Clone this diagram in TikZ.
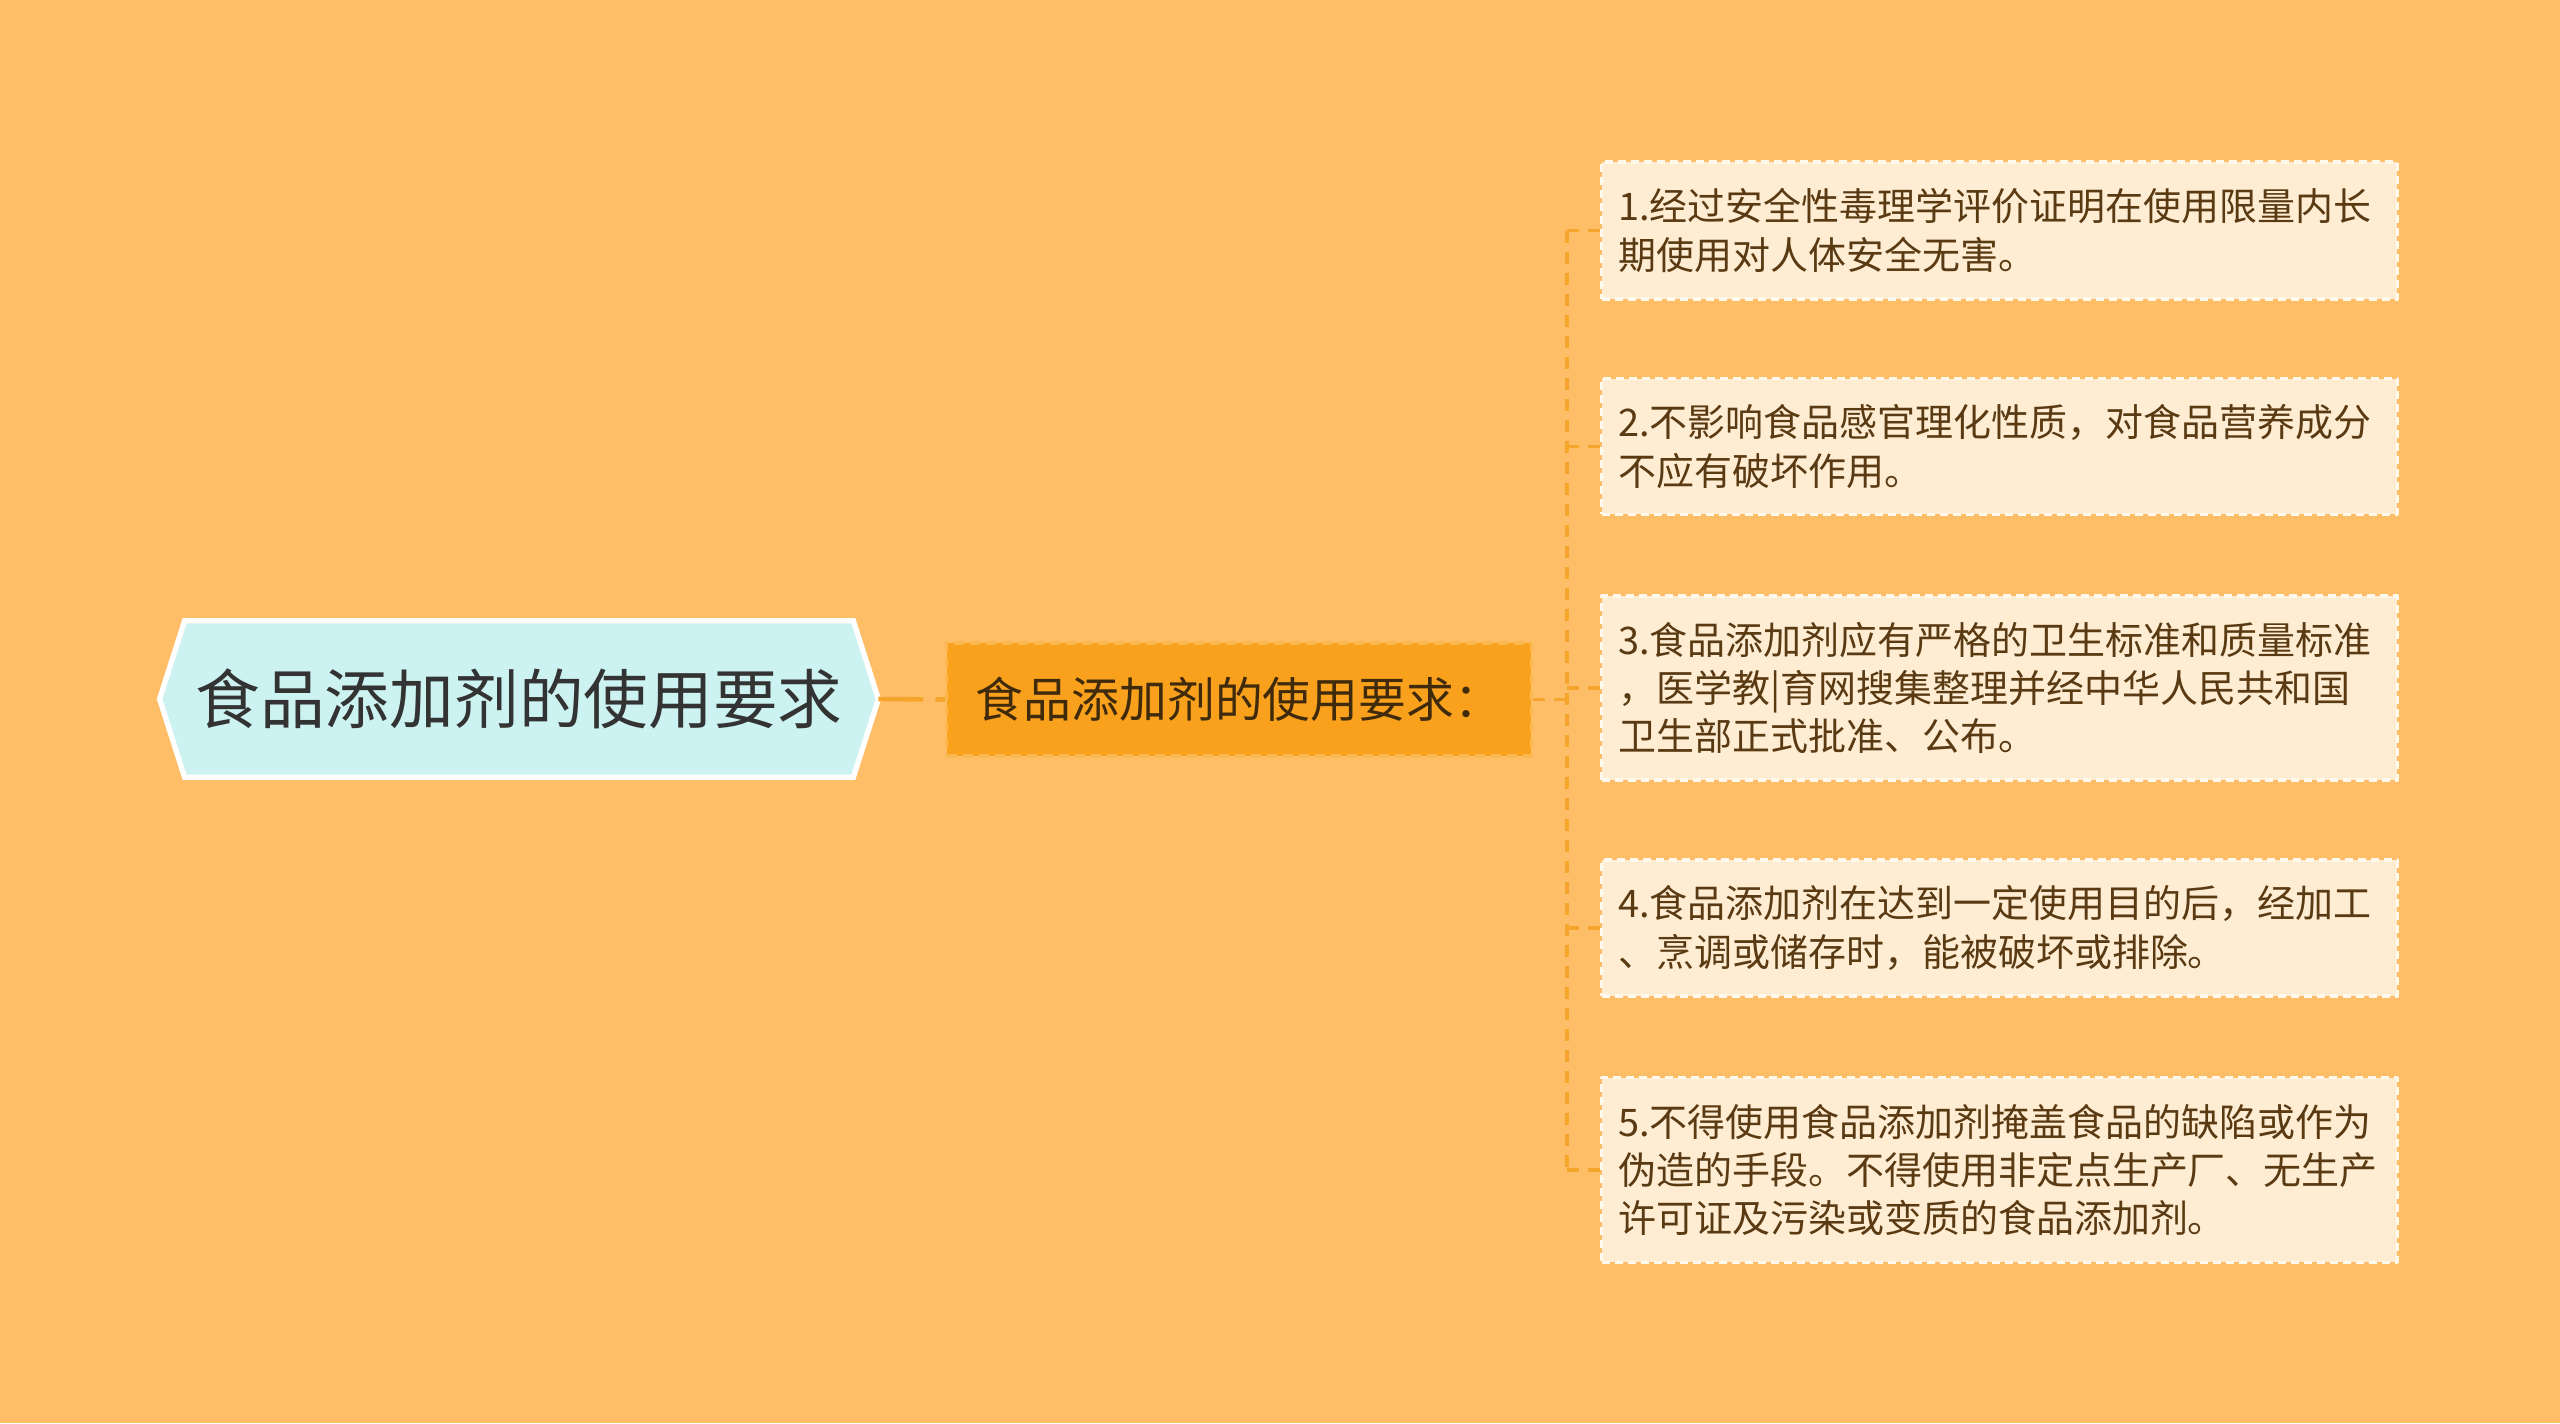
\documentclass[tikz,border=0pt]{standalone}
\usepackage{fontspec}
\setmainfont{Noto Sans CJK SC}
\usetikzlibrary{backgrounds}
\definecolor{bgorange}{HTML}{FEBE68}
\definecolor{rootfill}{HTML}{CCF3F1}
\definecolor{midfill}{HTML}{F9A11C}
\definecolor{middash}{HTML}{FBB850}
\definecolor{leaffill}{HTML}{FFEDD3}
\definecolor{leafdash}{HTML}{FFF8EC}
\definecolor{linkorange}{HTML}{F6A52C}
\definecolor{leaftext}{HTML}{5A3A12}
\definecolor{roottext}{HTML}{333333}
\definecolor{midtext}{HTML}{402A0C}
\begin{document}
\begin{tikzpicture}[x=0.01cm,y=-0.01cm,line join=round]
	\tikzset{rootbox/.style={minimum width=7.17cm,minimum height=1.55cm,inner sep=0pt,text=roottext,font=\fontsize{18.4}{22}\selectfont},
		midbox/.style={fill=midfill,draw=middash,line width=0.9pt,dash pattern=on 0.1cm off 0.06cm,minimum width=5.84cm,minimum height=1.13cm,inner sep=0pt,text=midtext,font=\fontsize{13.6}{16}\selectfont},
		leafbox/.style={fill=leaffill,draw=leafdash,line width=0.9pt,dash pattern=on 0.08cm off 0.05cm,text width=7.62cm,inner xsep=0.165cm,inner ysep=0pt,align=left,text=leaftext,font=\fontsize{10.8}{13.7}\selectfont},
		link/.style={draw=linkorange,line width=1pt,dash pattern=on 0.12cm off 0.09cm},
		rootlink/.style={draw=linkorange,line width=1.3pt,dash pattern=on 0.45cm off 0.12cm}}
	\useasboundingbox (0,0) rectangle (2560,1423);
	% main topic and sub topic
	\node[rootbox] (root) at (519,699) {食品添加剂的使用要求};
	\node[midbox] (mid) at (1239,699.5) {食品添加剂的使用要求：};
	% five requirements
	\node[leafbox,minimum height=1.37cm] (c1) at (1999.5,230.5) {1.经过安全性毒理学评价证明在使用限量内长\\期使用对人体安全无害。};
	\node[leafbox,minimum height=1.355cm] (c2) at (1999.5,446.5) {2.不影响食品感官理化性质，对食品营养成分\\不应有破坏作用。};
	\node[leafbox,minimum height=1.84cm] (c3) at (1999.5,688) {3.食品添加剂应有严格的卫生标准和质量标准\\，医学教|育网搜集整理并经中华人民共和国\\卫生部正式批准、公布。};
	\node[leafbox,minimum height=1.36cm] (c4) at (1999.5,928) {4.食品添加剂在达到一定使用目的后，经加工\\、烹调或储存时，能被破坏或排除。};
	\node[leafbox,minimum height=1.845cm] (c5) at (1999.5,1170) {5.不得使用食品添加剂掩盖食品的缺陷或作为\\伪造的手段。不得使用非定点生产厂、无生产\\许可证及污染或变质的食品添加剂。};
	\coordinate (trunk) at (1567,699.5);
	% connectors
	\draw[rootlink] (root.east) -- (mid.west);
	\draw[link] (mid.east) -- (trunk);
	\draw[link] (trunk |- c1.west) -- (trunk |- c5.west);
	\foreach \c in {c1,c2,c3,c4,c5}
		\draw[link] (trunk |- \c.west) -- (\c.west);
	\begin{scope}[on background layer]
		\fill[bgorange] (0,0) rectangle (2560,1423);
		\filldraw[fill=rootfill,draw=white,line width=1.5pt] (root.west) -- ([xshift=0.25cm]root.north west) -- ([xshift=-0.25cm]root.north east)
			-- (root.east) -- ([xshift=-0.25cm]root.south east) -- ([xshift=0.25cm]root.south west) -- cycle;
	\end{scope}
\end{tikzpicture}
\end{document}
